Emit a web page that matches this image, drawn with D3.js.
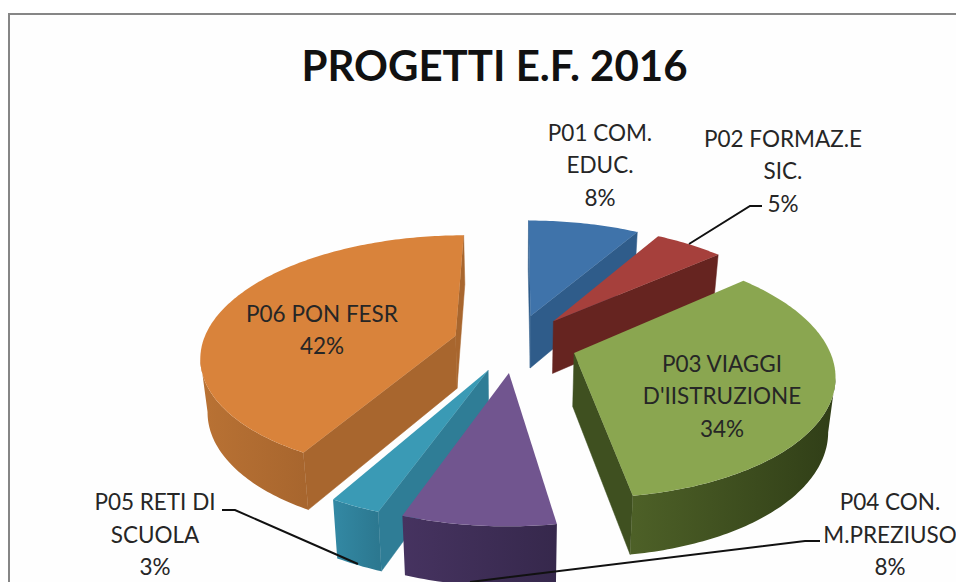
<!DOCTYPE html>
<html><head><meta charset="utf-8">
<script src="https://cdnjs.cloudflare.com/ajax/libs/d3/7.8.5/d3.min.js"></script>
<style>html,body{margin:0;padding:0;background:#fff;overflow:hidden}svg{display:block}text{font-family:Lato,"Open Sans",sans-serif;fill:#262626}</style>
</head><body><svg id="c" width="956" height="582"></svg>
<script>
const chartTitle = "PROGETTI E.F. 2016";
const categories = ["P01 COM. EDUC.","P02 FORMAZ.E SIC.","P03 VIAGGI D'IISTRUZIONE","P04 CON. M.PREZIUSO","P05 RETI DI SCUOLA","P06 PON FESR"];
const values = [8.4,5.2,33.9,8.0,2.7,41.8];
const labelLines = [["P01 COM.","EDUC."],["P02 FORMAZ.E","SIC."],["P03 VIAGGI","D'IISTRUZIONE"],["P04 CON.","M.PREZIUSO"],["P05 RETI DI","SCUOLA"],["P06 PON FESR"]];
const topColors  = ["#3f73aa","#a6403c","#8aa650","#71558f","#3a9ab5","#d9833b"];
const wallColors = ["#2f5c8a","#662420","#3f5020","#3f2f58","#2f7d96","#a8662e"];
const rimLight   = ["#2f5c8a","#662420","#4d6027","#463360","#3389a4","#b97234"];
const rimDark    = ["#2a527c","#5c201c","#303e17","#36284c","#2c7890","#a8662e"];

const svg = d3.select("#c");
const defs = svg.append("defs");
svg.append("rect").attr("width",956).attr("height",582).attr("fill","#fff");
svg.append("rect").attr("x",9).attr("y",14).attr("width",1000).attr("height",700)
   .attr("fill","#fefefe").attr("stroke","#868686").attr("stroke-width",2);
svg.append("text").attr("x",494.5).attr("y",81).attr("text-anchor","middle")
   .attr("font-size",42).attr("font-weight",700).style("fill","#111").text(chartTitle);

// projection of the pie disc with mild perspective
const cx=515, cy=343, R=253, EXPLODE=62, TILT=.468, PERSP=1600, DEPTH=53;
function project(px,pt,bottom){
  const s=1/(1-pt/PERSP);
  const x=px*s, y=TILT*pt*s;
  return bottom ? [cx+x*.977, cy+y*1.038+DEPTH] : [cx+x, cy+y];
}
const pie=d3.pie().sort(null).value(d=>d).startAngle(0).endAngle(2*Math.PI);
const arcs=pie(values);
const line=d3.line();
function slicePoint(arc,a,r,bottom){
  const m=(arc.startAngle+arc.endAngle)/2;
  return project(EXPLODE*Math.sin(m)+r*Math.sin(a), -EXPLODE*Math.cos(m)-r*Math.cos(a), bottom);
}
const order=[0,1,5,2,4,3];
order.forEach(i=>{
  const arc=arcs[i];
  const n=Math.max(8,Math.round((arc.endAngle-arc.startAngle)*60));
  const angles=d3.range(n+1).map(k=>arc.startAngle+(arc.endAngle-arc.startAngle)*k/n);
  const tipT=slicePoint(arc,0,0,false), tipB=slicePoint(arc,0,0,true);
  const rimT=angles.map(a=>slicePoint(arc,a,R,false));
  const rimB=angles.map(a=>slicePoint(arc,a,R,true));
  const g=svg.append("g");
  // radial walls: d3.polygonArea is positive when the wall faces the viewer
  [[tipT,rimT[0],rimB[0],tipB],[rimT[n],tipT,tipB,rimB[n]]].forEach(q=>{
    if(d3.polygonArea(q)>0) g.append("path").attr("d",line(q)+"Z").attr("fill",wallColors[i]).attr("stroke",wallColors[i]).attr("stroke-width",.5);
  });
  // outer wall: only the segments running right to left are facing the viewer
  const vis=d3.range(n).filter(k=>rimT[k+1][0]<rimT[k][0]);
  if(vis.length){
    const a=vis[0], b=vis[vis.length-1]+1;
    const top=rimT.slice(a,b+1), bot=rimB.slice(a,b+1).reverse();
    const id="rim"+i;
    const xs=top.map(p=>p[0]);
    const grad=defs.append("linearGradient").attr("id",id).attr("gradientUnits","userSpaceOnUse")
      .attr("x1",d3.max(xs)).attr("x2",d3.min(xs)).attr("y1",0).attr("y2",0);
    grad.append("stop").attr("offset",0).attr("stop-color",rimDark[i]);
    grad.append("stop").attr("offset",1).attr("stop-color",rimLight[i]);
    g.append("path").attr("d",line(top.concat(bot))+"Z").attr("fill","url(#"+id+")");
  }
  // top face
  g.append("path").attr("d",line([tipT].concat(rimT))+"Z").attr("fill",topColors[i]);
});

// leader lines
const leaders=[[[689,244],[750,206],[762,206]],[[470,582],[805,541],[820,541]],[[222,510],[235,510],[358,564]]];
leaders.forEach(l=>svg.append("path").attr("d",line(l)).attr("fill","none").attr("stroke","#111").attr("stroke-width",2));

// labels
const anchors=[[600,140.5],[783,146.5],[722,371.5],[890,510],[155,510],[322,321.5]];
const pct=d3.format(".0%"), total=d3.sum(values);
categories.forEach((c,i)=>{
  const t=svg.append("text").attr("text-anchor","middle").attr("font-size",22.5);
  labelLines[i].concat([pct(values[i]/total)]).forEach((s,k)=>{
    t.append("tspan").attr("x",anchors[i][0]).attr("y",anchors[i][1]+k*32.6).text(s);
  });
});
</script></body></html>
